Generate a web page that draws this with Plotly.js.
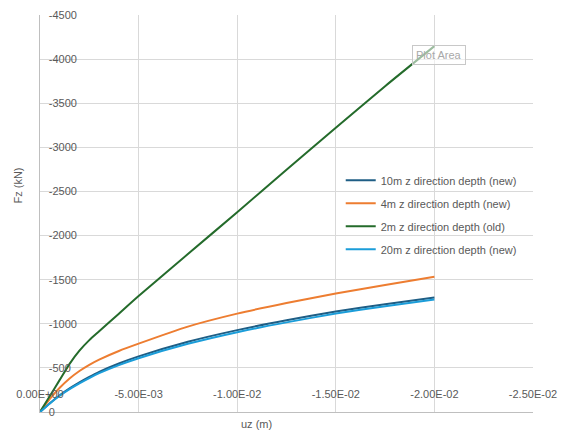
<!DOCTYPE html>
<html>
<head>
<meta charset="utf-8">
<script src="https://cdn.plot.ly/plotly-3.0.1.min.js"></script>
<style>
  html, body { margin: 0; padding: 0; background: #ffffff; }
  #chart { width: 561px; height: 443px; }
</style>
</head>
<body>
<div id="chart"></div>
<script>
// displacement uz (m)
var uz = [0, -0.0005, -0.001, -0.0015, -0.002, -0.0025, -0.003, -0.004, -0.005, -0.0075,
          -0.01, -0.0125, -0.015, -0.0175, -0.02];

// Fz (kN) for each depth
var fz10 = [0, -100, -190, -268, -336, -398, -455, -550, -630, -796, -928, -1040, -1140, -1222, -1298];
var fz4  = [0, -150, -275, -380, -465, -535, -594, -692, -775, -968, -1115, -1235, -1343, -1440, -1532];
var fz2  = [0, -182, -364, -546, -695, -815, -915, -1115, -1315, -1790, -2265, -2745, -3222, -3693, -4147];
var fz20 = [0, -97, -184, -259, -325, -385, -440, -532, -610, -773, -905, -1016, -1116, -1199, -1276];

var seriesNames = ['10m z direction depth (new)', '4m z direction depth (new)',
                   '2m z direction depth (old)', '20m z direction depth (new)'];
var seriesColors = ['#1f5e85', '#ed7d31', '#246b2b', '#1b9dd9'];

var xTickVals = [0, -0.005, -0.01, -0.015, -0.02, -0.025];
var xTickText = ['0.00E+00', '-5.00E-03', '-1.00E-02', '-1.50E-02', '-2.00E-02', '-2.50E-02'];
var yTickVals = [0, -500, -1000, -1500, -2000, -2500, -3000, -3500, -4000, -4500];
var yTickText = ['0', '-500', '-1000', '-1500', '-2000', '-2500', '-3000', '-3500', '-4000', '-4500'];

var FONT = 'Liberation Sans, Arial, sans-serif';
var GREY = '#595959';

var ys = [fz10, fz4, fz2, fz20];
var traces = [];
for (var i = 0; i < ys.length; i++) {
    traces.push({
        x: uz,
        y: ys[i],
        name: seriesNames[i],
        legendgroup: 'g' + i,
        type: 'scatter',
        mode: 'lines',
        line: { color: seriesColors[i], width: 2, shape: 'spline', smoothing: 0.6 }
    });
}

var layout = {
    width: 561,
    height: 443,
    paper_bgcolor: '#ffffff',
    plot_bgcolor: '#ffffff',
    margin: { l: 40, r: 28, t: 15, b: 31 },
    font: { family: FONT, size: 11, color: GREY },
    showlegend: true,
    legend: {
        x: 0.61, y: 0.62, xanchor: 'left', yanchor: 'top',
        bgcolor: 'rgba(0,0,0,0)',
        font: { family: FONT, size: 11, color: GREY },
        tracegroupgap: 4,
        itemwidth: 30
    },
    xaxis: {
        range: [0, -0.025],
        tickmode: 'array',
        tickvals: xTickVals,
        ticktext: xTickText,
        ticklabelposition: 'inside',
        ticklabeloverflow: 'allow',
        ticklabelstandoff: 11,
        ticks: '',
        showgrid: true,
        gridcolor: '#d9d9d9',
        gridwidth: 1,
        zeroline: false,
        showline: true,
        linecolor: '#bfbfbf',
        linewidth: 1,
        tickfont: { family: FONT, size: 11, color: GREY }
    },
    yaxis: {
        range: [0, -4500],
        tickmode: 'array',
        tickvals: yTickVals,
        ticktext: yTickText,
        ticklabelposition: 'inside',
        ticklabeloverflow: 'allow',
        ticklabelstandoff: 8,
        ticks: '',
        showgrid: true,
        gridcolor: '#d9d9d9',
        gridwidth: 1,
        zeroline: false,
        showline: true,
        linecolor: '#bfbfbf',
        linewidth: 1,
        tickfont: { family: FONT, size: 11, color: GREY }
    },
    annotations: [
        {   // y axis title
            text: 'Fz (kN)', xref: 'paper', yref: 'paper',
            x: -0.045, y: 0.57, xanchor: 'center', yanchor: 'middle',
            textangle: -90, showarrow: false,
            font: { family: FONT, size: 11, color: GREY }
        },
        {   // x axis title
            text: 'uz (m)', xref: 'paper', yref: 'paper',
            x: 0.44, y: -0.031, xanchor: 'center', yanchor: 'middle',
            showarrow: false,
            font: { family: FONT, size: 11, color: GREY }
        },
        {   // Excel hover tip left in the screenshot
            text: 'Plot Area', xref: 'paper', yref: 'paper',
            x: 0.754, y: 0.925, xanchor: 'left', yanchor: 'top',
            showarrow: false, bgcolor: 'rgba(255,255,255,0.55)',
            bordercolor: '#c8c8c8', borderwidth: 1, borderpad: 3,
            font: { family: FONT, size: 11, color: '#a8a8a8' }
        }
    ]
};

Plotly.newPlot('chart', traces, layout, { staticPlot: true });
</script>
</body>
</html>
